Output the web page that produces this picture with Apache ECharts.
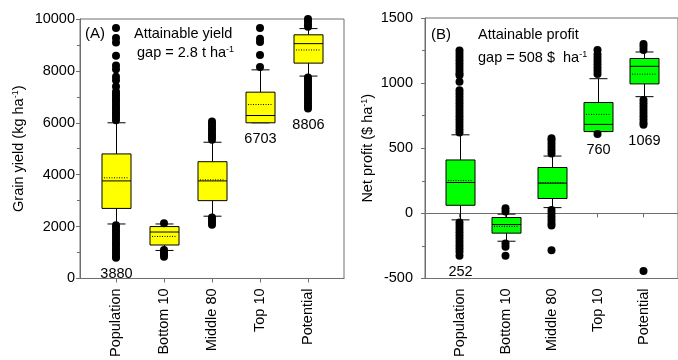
<!DOCTYPE html>
<html>
<head>
<meta charset="utf-8">
<script src="https://cdn.jsdelivr.net/npm/echarts@6/dist/echarts.min.js"></script>
<style>
html, body { margin: 0; padding: 0; background: #fff; }
#main { width: 678px; height: 360px; }
</style>
</head>
<body>
<div id="main"></div>
<script>
var categories = ['Population', 'Bottom 10', 'Middle 80', 'Top 10', 'Potential'];

// (A) grain yield, kg/ha
var yieldLow  = [2100, 1080, 2400, 6000, 7800];
var yieldQ1   = [2700, 1290, 3000, 6000, 8300];
var yieldMed  = [3760, 1790, 3760, 6280, 9050];
var yieldQ3   = [4800, 2000, 4500, 7180, 9390];
var yieldHigh = [6000, 2100, 5250, 8040, 9630];
var yieldMean = [3880, 1620, 3800, 6703, 8806];
var yieldMeanLabel = ['3880', '', '', '6703', '8806'];
var yieldOutliers = [
    [9650, 9270, 9090, 8580, 8210, 8060, 7770, 7640, 7400, 7200, 7100, 7000, 6900, 6800, 6700,
     6600, 6500, 6400, 6300, 6200, 6100,
     2050, 1950, 1850, 1750, 1650, 1550, 1450, 1350, 1250, 1150, 1050, 950, 850, 800],
    [2130, 1100, 1000, 920, 840],
    [6050, 5950, 5850, 5750, 5650, 5550, 5450, 5350, 2350, 2250, 2150, 2070],
    [9650, 9240, 9110, 8610, 8150],
    [10000, 9900, 9800, 9700, 7750, 7650, 7550, 7450, 7350, 7250, 7150, 7050, 6950, 6850, 6750,
     6650, 6550]
];

// (B) net profit, $/ha
var profitLow  = [-50, -214, 44, 628, 896];
var profitQ1   = [62, -152, 114, 628, 994];
var profitMed  = [237, -86, 232, 683, 1129];
var profitQ3   = [410, -32, 352, 851, 1189];
var profitHigh = [603, -6, 440, 1034, 1239];
var profitMean = [252, -100, 234, 760, 1069];
var profitMeanLabel = ['252', '', '', '760', '1069'];
var profitOutliers = [
    [1250, 1225, 1200, 1175, 1150, 1125, 1100, 1075, 1060, 1010, 945, 920, 895, 870, 845, 820,
     795, 770, 745, 720, 695, 670, 645, 620,
     -70, -95, -120, -145, -170, -195, -220, -245, -270, -295, -325],
    [40, 15, -232, -257, -325],
    [577, 560, 535, 510, 485, 460, 25, 0, -25, -50, -75, -94, -284],
    [1255, 1220, 1195, 1170, 1145, 1120, 1095, 1070, 610],
    [1300, 1280, 1255, 870, 845, 820, 795, 770, 745, 720, 695, 680, -442]
];

var FONT = '"Liberation Sans", Arial, sans-serif';
var AXIS_COLOR = '#6e6e6e';

function boxData(low, q1, med, q3, high, mean) {
    var data = [];
    for (var i = 0; i < categories.length; i++) {
        data.push([i + 1, low[i], q1[i], med[i], q3[i], high[i], mean[i]]);
    }
    return data;
}

function outlierData(outliers) {
    var data = [];
    for (var i = 0; i < outliers.length; i++) {
        for (var j = 0; j < outliers[i].length; j++) {
            data.push([i + 1, outliers[i][j]]);
        }
    }
    return data;
}

// box, whiskers, median, dotted mean and the mean label under the lowest cluster
function boxRender(fill, labels, outliers) {
    return function (params, api) {
        var i = params.dataIndex;
        var x = api.value(0);
        var pLow = api.coord([x, api.value(1)]);
        var pQ1 = api.coord([x, api.value(2)]);
        var pMed = api.coord([x, api.value(3)]);
        var pQ3 = api.coord([x, api.value(4)]);
        var pHigh = api.coord([x, api.value(5)]);
        var pMean = api.coord([x, api.value(6)]);
        var cx = Math.round(pQ1[0]) + 0.5;
        var half = 14.5, cap = 9;
        var line = { stroke: '#000', lineWidth: 1 };
        var children = [
            { type: 'line', shape: { x1: cx, y1: pQ3[1], x2: cx, y2: pHigh[1] }, style: line },
            { type: 'line', shape: { x1: cx, y1: pQ1[1], x2: cx, y2: pLow[1] }, style: line },
            { type: 'line', shape: { x1: cx - cap, y1: pHigh[1], x2: cx + cap, y2: pHigh[1] }, style: line },
            { type: 'line', shape: { x1: cx - cap, y1: pLow[1], x2: cx + cap, y2: pLow[1] }, style: line },
            { type: 'rect', shape: { x: cx - half, y: pQ3[1], width: half * 2, height: pQ1[1] - pQ3[1] },
              style: { fill: fill, stroke: '#000', lineWidth: 1 } },
            { type: 'line', shape: { x1: cx - half, y1: pMed[1], x2: cx + half, y2: pMed[1] }, style: line },
            { type: 'line', shape: { x1: cx - half + 2, y1: pMean[1], x2: cx + half - 2, y2: pMean[1] },
              style: { stroke: '#000', lineWidth: 1, lineDash: [1, 1.5] } }
        ];
        if (labels[i]) {
            var bottom = pLow[1];
            var lows = outliers[i].filter(function (v) { return v < api.value(1); })
                .sort(function (a, b) { return b - a; });
            for (var k = 0; k < lows.length; k++) {
                var py = api.coord([x, lows[k]])[1];
                if (py - bottom > 30) break;
                bottom = py;
            }
            children.push({
                type: 'text', x: cx, y: bottom + 16,
                style: { text: labels[i], align: 'center', verticalAlign: 'middle',
                         fontSize: 14.5, fontFamily: FONT, fill: '#000' }
            });
        }
        return { type: 'group', children: children };
    };
}

function xAxisFor(gridIndex) {
    return {
        type: 'value', gridIndex: gridIndex, min: 0.25, max: 5.75,
        axisLine: { show: true, lineStyle: { color: AXIS_COLOR } },
        axisTick: { show: true, length: 4, customValues: [1, 2, 3, 4, 5], lineStyle: { color: AXIS_COLOR } },
        axisLabel: {
            customValues: [1, 2, 3, 4, 5], rotate: 90, margin: 10,
            color: '#000', fontSize: 14.5, fontFamily: FONT,
            formatter: function (v) { return categories[Math.round(v) - 1]; }
        },
        splitLine: { show: false }
    };
}

function yAxisFor(gridIndex, min, max, interval, name, nameGap, labelMargin) {
    return {
        type: 'value', gridIndex: gridIndex, min: min, max: max, interval: interval,
        name: name, nameLocation: 'middle', nameGap: nameGap,
        nameTextStyle: {
            color: '#000', fontSize: 14.5, fontFamily: FONT,
            rich: { sup: { fontSize: 9, fontFamily: FONT, color: '#000', verticalAlign: 'top', padding: [0, 0, 6, 0] } }
        },
        axisLine: { show: true, lineStyle: { color: AXIS_COLOR } },
        axisTick: { show: true, length: 4, lineStyle: { color: AXIS_COLOR } },
        minorTick: { show: true, splitNumber: 2, length: 3, lineStyle: { color: AXIS_COLOR } },
        axisLabel: {
            color: '#000', fontSize: 14.5, fontFamily: FONT, margin: labelMargin,
            formatter: function (v) { return String(v); }
        },
        splitLine: { show: false }
    };
}

function noteText(x, y, text, size) {
    return {
        type: 'text', x: x, y: y,
        style: {
            text: text, fill: '#000', fontSize: size, fontFamily: FONT, verticalAlign: 'middle',
            rich: { sup: { fontSize: 9, fontFamily: FONT, fill: '#000', padding: [0, 0, 7, 0] } }
        }
    };
}

var myChart = echarts.init(document.getElementById('main'), null, { renderer: 'canvas' });
var option = {
    animation: false,
    backgroundColor: '#fff',
    grid: [
        { left: 80, top: 19, width: 264, height: 266, show: true, borderColor: AXIS_COLOR, borderWidth: 1 },
        { left: 425, top: 18, width: 264, height: 266, show: true, borderColor: AXIS_COLOR, borderWidth: 1 }
    ],
    xAxis: [xAxisFor(0), xAxisFor(1)],
    yAxis: [
        yAxisFor(0, 0, 10000, 2000, 'Grain yield (kg ha{sup|-1})', 54, 5),
        yAxisFor(1, -500, 1500, 500, 'Net profit ($ ha{sup|-1})', 50, 12)
    ],
    graphic: [
        noteText(85, 34, '(A)', 15),
        noteText(134, 34, 'Attainable yield', 14.5),
        noteText(137, 53, 'gap = 2.8 t ha{sup|-1}', 14.5),
        noteText(431, 35, '(B)', 15),
        noteText(478, 35, 'Attainable profit', 14.5),
        noteText(478, 58, 'gap = 508 $  ha{sup|-1}', 14.5)
    ],
    series: [
        {
            type: 'custom', xAxisIndex: 0, yAxisIndex: 0, clip: false,
            renderItem: boxRender('#ffff00', yieldMeanLabel, yieldOutliers),
            encode: { x: 0, y: [1, 2, 3, 4, 5, 6] },
            data: boxData(yieldLow, yieldQ1, yieldMed, yieldQ3, yieldHigh, yieldMean)
        },
        {
            type: 'scatter', xAxisIndex: 0, yAxisIndex: 0, clip: false,
            symbol: 'circle', symbolSize: 8, itemStyle: { color: '#000', opacity: 1 },
            data: outlierData(yieldOutliers)
        },
        {
            type: 'custom', xAxisIndex: 1, yAxisIndex: 1, clip: false,
            renderItem: boxRender('#00ff00', profitMeanLabel, profitOutliers),
            encode: { x: 0, y: [1, 2, 3, 4, 5, 6] },
            data: boxData(profitLow, profitQ1, profitMed, profitQ3, profitHigh, profitMean)
        },
        {
            type: 'scatter', xAxisIndex: 1, yAxisIndex: 1, clip: false,
            symbol: 'circle', symbolSize: 8, itemStyle: { color: '#000', opacity: 1 },
            data: outlierData(profitOutliers)
        }
    ]
};
myChart.setOption(option);
</script>
</body>
</html>
